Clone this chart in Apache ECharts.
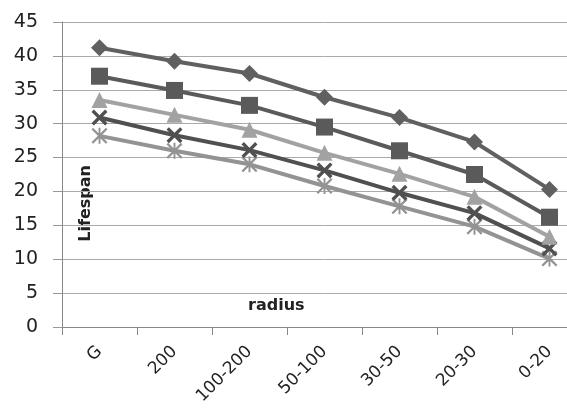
<!DOCTYPE html>
<html><head><meta charset="utf-8">
<script src="https://cdn.jsdelivr.net/npm/echarts@6/dist/echarts.min.js"></script>
<style>html,body{margin:0;padding:0;background:#fff;overflow:hidden;width:567px;height:413px}#c{width:590px;height:413px}</style>
</head><body><div id="c"></div>
<script>
var categories = ['G','200','100-200','50-100','30-50','20-30','0-20'];
var diamondVals = [41.2, 39.2, 37.4, 33.9, 30.9, 27.3, 20.3];
var squareVals = [37.0, 34.9, 32.7, 29.5, 26.0, 22.5, 16.2];
var triangleVals = [33.5, 31.3, 29.1, 25.7, 22.6, 19.2, 13.3];
var crossVals = [30.9, 28.3, 26.1, 23.1, 19.8, 16.8, 11.6];
var starVals = [28.2, 26.0, 24.0, 20.8, 17.8, 14.8, 10.1];
var yTicks = {min:0, max:45, interval:5};

var X_PATH = 'path://M0,1.5L1.5,0L5,3.5L8.5,0L10,1.5L6.5,5L10,8.5L8.5,10L5,6.5L1.5,10L0,8.5L3.5,5Z';
var STAR_PATH = 'path://M0,1L1,0L5,4L9,0L10,1L6,5L10,9L9,10L5,6L1,10L0,9L4,5Z M4.4,0L5.6,0L5.6,10L4.4,10Z';

function mk(name, data, color, symbol, size){
  return {name:name, type:'line', data:data, symbol:symbol, symbolSize:size,
    lineStyle:{color:color, width:4}, itemStyle:{color:color}, showSymbol:true, animation:false};
}
var chart = echarts.init(document.getElementById('c'), null, {renderer:'canvas'});
chart.setOption({
  animation:false,
  grid:{left:62, top:22, height:305, width:525, containLabel:false},
  xAxis:{type:'category', data:categories, boundaryGap:true,
    axisLine:{lineStyle:{color:'#888', width:1}},
    axisTick:{show:true, length:8, lineStyle:{color:'#888'}},
    axisLabel:{rotate:45, fontSize:17, color:'#222', fontFamily:'DejaVu Sans', margin:22, interval:0},
    splitLine:{show:false}},
  yAxis:{type:'value', min:yTicks.min, max:yTicks.max, interval:yTicks.interval,
    axisLine:{show:true, lineStyle:{color:'#888'}},
    axisTick:{show:true, length:9, lineStyle:{color:'#999'}},
    axisLabel:{fontSize:19, color:'#222', fontFamily:'DejaVu Sans', margin:24},
    splitLine:{lineStyle:{color:'#aaa', width:1}}},
  series:[
    mk('s5', starVals, '#939393', STAR_PATH, 16),
    mk('s4', crossVals, '#505050', X_PATH, 16),
    mk('s3', triangleVals, '#a2a2a2', 'triangle', 16),
    mk('s2', squareVals, '#5a5a5a', 'rect', 17),
    mk('s1', diamondVals, '#606060', 'diamond', 17)
  ],
  graphic:[
    {type:'text', left:78, top:165, rotation:Math.PI/2, style:{text:'Lifespan', font:'bold 16px "DejaVu Sans"', fill:'#222'},
     originX:0, originY:0},
    {type:'text', left:248, top:298, style:{text:'radius', font:'bold 16px "DejaVu Sans"', fill:'#222'}}
  ]
});
</script></body></html>
